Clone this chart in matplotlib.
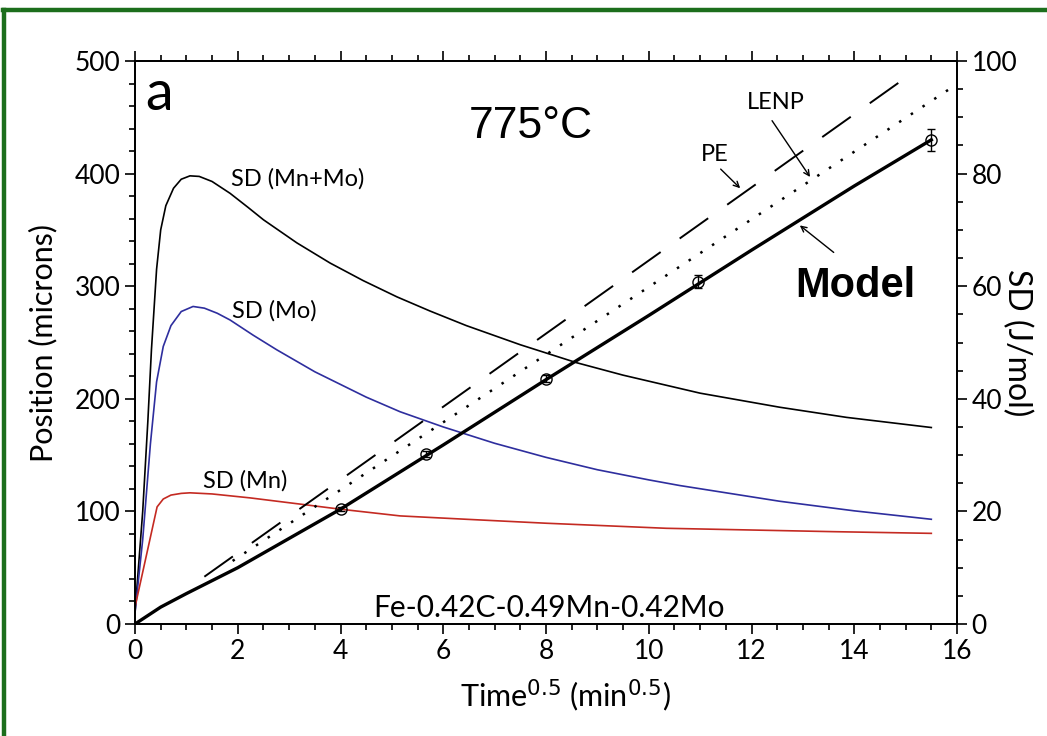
import numpy as np
import matplotlib.pyplot as plt
from matplotlib.lines import Line2D
from matplotlib.ticker import MultipleLocator

plt.rcParams['font.family'] = ['Lato', 'DejaVu Sans']

# model position vs sqrt(time)
model_x = [0, 0.5, 1, 2, 3, 4, 6, 8, 10, 12, 14, 15.5]
model_y = [0, 15, 27, 50, 76, 102, 159, 217, 274, 332, 389, 430]

# PE and LENP (straight parabolic lines)
pe_x = [1.35, 15.15]
pe_y = [42, 490]
lenp_x = [1.9, 15.85]
lenp_y = [56, 475]

# measured points
meas_x = [4.0, 5.66, 8.0, 10.95, 15.5]
meas_y = [102, 151, 218, 304, 430]
meas_err = [2, 3, 3, 6, 10]

# solute drag curves (right axis, J/mol)
sd_all_x = [0, 0.15, 0.25, 0.32, 0.42, 0.5, 0.6, 0.75, 0.9, 1.07, 1.25, 1.5, 1.85, 2.2,
            2.5, 3.15, 3.8, 4.44, 5.1, 5.74, 6.45, 7.5, 8.6, 9.5, 11.0, 12.55, 13.85, 15.5]
sd_all_y = [2, 20, 36, 48.7, 63, 70, 74.3, 77.4, 79.0, 79.6, 79.5, 78.6, 76.5, 74.0,
            71.8, 67.7, 64.1, 61.0, 58.1, 55.6, 53.0, 49.6, 46.4, 44.2, 41.0, 38.5, 36.7, 34.9]
sd_mo_x = [0, 0.15, 0.3, 0.42, 0.55, 0.7, 0.9, 1.13, 1.35, 1.6, 1.85, 2.3, 2.76, 3.5,
           4.5, 5.16, 6.0, 7.0, 8.0, 9.0, 10.0, 10.6, 12.55, 14.0, 15.5]
sd_mo_y = [2, 15, 32, 43, 49.3, 53, 55.5, 56.4, 56.1, 55.2, 54, 51.3, 48.7, 44.8,
           40.3, 37.7, 35, 32.1, 29.6, 27.4, 25.6, 24.6, 21.8, 20.1, 18.6]
sd_mn_x = [0, 0.43, 0.55, 0.7, 0.9, 1.07, 1.5, 2.24, 3.21, 3.99, 5.16, 6.45, 8.0,
           10.34, 13.6, 15.5]
sd_mn_y = [3, 20.8, 22.2, 22.9, 23.2, 23.3, 23.1, 22.4, 21.3, 20.4, 19.2, 18.6, 17.9,
           17.0, 16.4, 16.1]

fig = plt.figure(figsize=(10.47, 7.36), dpi=100)
ax = fig.add_axes([135 / 1047, 1 - 624 / 736, 822 / 1047, 563 / 736])
ax2 = ax.twinx()

ax2.plot(sd_all_x, sd_all_y, color='black', lw=1.2)
ax2.plot(sd_mo_x, sd_mo_y, color='#2e2e9e', lw=1.2)
ax2.plot(sd_mn_x, sd_mn_y, color='#c42a22', lw=1.2)

ax.plot(model_x, model_y, color='black', lw=2.4, zorder=5)
ax.plot(pe_x, pe_y, color='black', lw=1.4, dashes=(18, 12))
ax.plot(lenp_x, lenp_y, color='black', lw=1.8, dashes=(1, 4.6))
ax.errorbar(meas_x, meas_y, yerr=meas_err, fmt='o', mfc='none', mec='black',
            ecolor='black', ms=8, mew=1.0, capsize=3, elinewidth=1.0, zorder=6)

ax.set_zorder(ax2.get_zorder() + 1)
ax.patch.set_visible(False)

ax.set_xlim(0, 16)
ax.set_ylim(0, 500)
ax2.set_ylim(0, 100)

ax.xaxis.set_major_locator(MultipleLocator(2))
ax.xaxis.set_minor_locator(MultipleLocator(0.5))
ax.yaxis.set_major_locator(MultipleLocator(100))
ax.yaxis.set_minor_locator(MultipleLocator(20))
ax2.yaxis.set_major_locator(MultipleLocator(20))
ax2.yaxis.set_minor_locator(MultipleLocator(5))

ax.tick_params(which='both', direction='out', top=True, labelsize=19, width=1.2)
ax.tick_params(which='major', length=7)
ax.tick_params(which='minor', length=4)
ax2.tick_params(which='both', direction='out', labelsize=19, width=1.2)
ax2.tick_params(which='major', length=7)
ax2.tick_params(which='minor', length=4)
for a in (ax, ax2):
    for s in a.spines.values():
        s.set_linewidth(1.3)

ax.set_xlabel('Time$^{0.5}$ (min$^{0.5}$)', fontsize=22, labelpad=10)
ax.xaxis.label.set_x(0.524)
ax.set_ylabel('Position (microns)', fontsize=22, labelpad=12)
ax2.set_ylabel('SD (J/mol)', fontsize=23, rotation=-90, labelpad=11)

ax.text(0.012, 0.985, 'a', transform=ax.transAxes, fontsize=40, va='top', ha='left')
ax.text(7.7, 442, '775°C', fontsize=32, ha='center', va='center',
        family=['Liberation Sans', 'DejaVu Sans'])
ax.text(15.2, 300, 'Model', fontsize=30, fontweight='bold', ha='right', va='center',
        family=['Liberation Sans', 'DejaVu Sans'])
ax.text(3.17, 395, 'SD (Mn+Mo)', fontsize=17, ha='center', va='center')
ax.text(2.72, 278, 'SD (Mo)', fontsize=17, ha='center', va='center')
ax.text(2.14, 127, 'SD (Mn)', fontsize=17, ha='center', va='center')
ax.text(11.29, 417, 'PE', fontsize=17, ha='center', va='center')
ax.text(12.48, 463, 'LENP', fontsize=17, ha='center', va='center')
ax.text(8.05, 14, 'Fe-0.42C-0.49Mn-0.42Mo', fontsize=21.5, ha='center', va='center')

arrow = dict(arrowstyle='->', color='black', lw=1.0, shrinkA=0, shrinkB=0)
ax.annotate('', xy=(11.78, 387), xytext=(11.4, 404), arrowprops=arrow)
ax.annotate('', xy=(13.14, 397), xytext=(12.4, 447), arrowprops=arrow)
ax.annotate('', xy=(12.94, 354), xytext=(13.6, 330), arrowprops=arrow)

# green frame (top and left edges)
gc = '#1c6e1c'
fig.add_artist(Line2D([3 / 1047, 1], [1 - 10 / 736, 1 - 10 / 736], color=gc, lw=3.2,
                      transform=fig.transFigure))
fig.add_artist(Line2D([3.5 / 1047, 3.5 / 1047], [0, 1 - 10 / 736], color=gc, lw=3.2,
                      transform=fig.transFigure))

fig.savefig('out.png', dpi=100)
